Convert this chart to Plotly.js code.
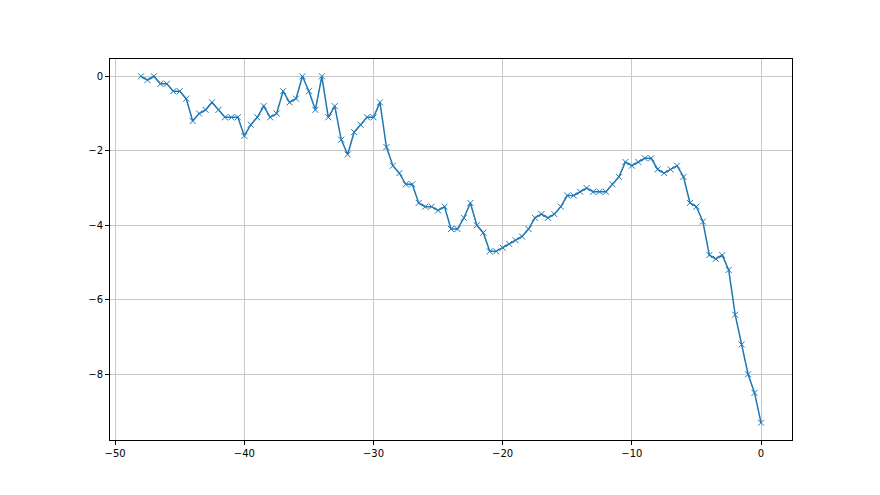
<!DOCTYPE html>
<html>
<head>
<meta charset="utf-8">
<script src="https://cdn.plot.ly/plotly-3.0.1.min.js"></script>
<style>html,body{margin:0;padding:0;background:#fff;}#chart{width:880px;height:495px;}</style>
</head>
<body>
<div id="chart"></div>
<script>
const xStart = -48;
const xStep = 0.5;
const yValues = [
  0.0, -0.1, 0.0, -0.2, -0.2, -0.4, -0.4, -0.6, -1.2, -1.0, -0.9, -0.7, -0.9, -1.1, -1.1, -1.1, -1.6,
  -1.3, -1.1, -0.8, -1.1, -1.0, -0.4, -0.7, -0.6, 0.0, -0.4, -0.9, 0.0, -1.1, -0.8, -1.7, -2.1, -1.5, -1.3, -1.1, -1.1, -0.7,
  -1.9, -2.4, -2.6, -2.9, -2.9, -3.4, -3.5, -3.5, -3.6, -3.5, -4.1, -4.1, -3.8, -3.4, -4.0, -4.2, -4.7, -4.7, -4.6,
  -4.5, -4.4, -4.3, -4.1, -3.8, -3.7, -3.8, -3.7, -3.5, -3.2, -3.2, -3.1, -3.0, -3.1, -3.1, -3.1, -2.9, -2.7, -2.3, -2.4,
  -2.3, -2.2, -2.2, -2.5, -2.6, -2.5, -2.4, -2.7, -3.4, -3.5, -3.9, -4.8, -4.9, -4.8, -5.2, -6.4, -7.2, -8.0, -8.5, -9.3
];
const xValues = yValues.map((_, i) => xStart + i * xStep);
const xTicks = [-50, -40, -30, -20, -10, 0];
const yTicks = [0, -2, -4, -6, -8];

const trace = {
  x: xValues, y: yValues, type: 'scatter', mode: 'lines+markers',
  line: {color: '#1f77b4', width: 1.5},
  marker: {symbol: 'x-thin', size: 6, color: '#1f77b4', line: {color: '#1f77b4', width: 1}}
};
const axisCommon = {
  showline: true, mirror: true, linecolor: '#000', linewidth: 1,
  ticks: 'outside', ticklen: 4, tickwidth: 1, tickcolor: '#000',
  showgrid: true, gridcolor: '#c8c8c8', gridwidth: 1, zeroline: false,
  tickfont: {family: 'DejaVu Sans', size: 10, color: '#000'}
};
const layout = {
  width: 880, height: 495,
  margin: {l: 110, r: 88, t: 59, b: 55},
  paper_bgcolor: '#fff', plot_bgcolor: '#fff',
  showlegend: false,
  xaxis: Object.assign({}, axisCommon, {range: [-50.4, 2.4], tickvals: xTicks, ticktext: xTicks.map(v => v < 0 ? '\u2212' + Math.abs(v) : String(v))}),
  yaxis: Object.assign({}, axisCommon, {range: [-9.765, 0.465], tickvals: yTicks, ticktext: yTicks.map(v => v < 0 ? '\u2212' + Math.abs(v) : String(v))})
};
Plotly.newPlot('chart', [trace], layout, {displayModeBar: false, staticPlot: true});
</script>
</body>
</html>
